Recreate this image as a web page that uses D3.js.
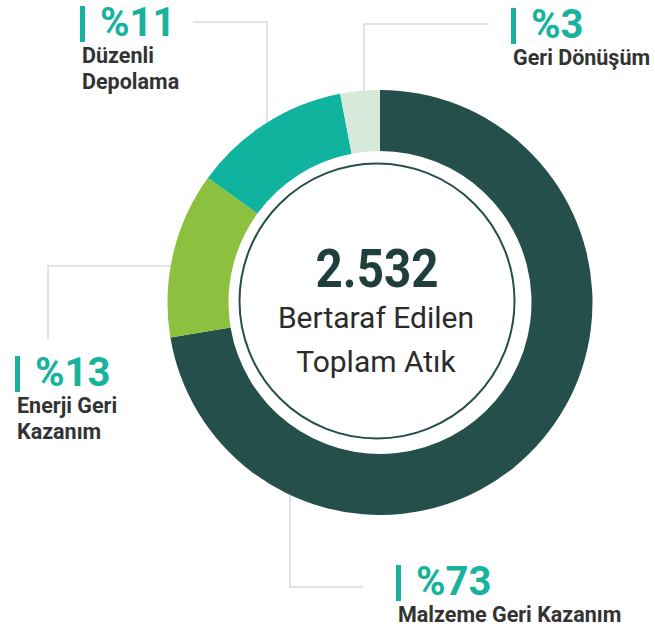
<!DOCTYPE html>
<html>
<head>
<meta charset="utf-8">
<script src="https://cdn.jsdelivr.net/npm/d3@7"></script>
<style>
  body { margin: 0; background: #fff; }
  text { font-family: "Roboto", "DejaVu Sans", sans-serif; }
</style>
</head>
<body>
<div id="chart"></div>
<script>
// waste breakdown (share of arc, labels as printed)
const categories = ["Malzeme Geri Kazanım", "Enerji Geri Kazanım", "Düzenli Depolama", "Geri Dönüşüm"];
const shares = [72.3, 12.6, 12.0, 3.0];
const pctLabels = ["%73", "%13", "%11", "%3"];
const colors = ["#244f4b", "#8bc13f", "#10b39e", "#d5e8da"];
const totalLabel = "2.532";
const centerLines = ["Bertaraf Edilen", "Toplam Atık"];

const width = 655, height = 632;
const cx = 380, cy = 302.5;
const outerR = 212.5, innerR = 151.5;

const svg = d3.select("#chart").append("svg")
  .attr("width", width)
  .attr("height", height);

// where a vertical / horizontal leader meets the donut edge
const edgeY = (x, dir) => cy + dir * Math.sqrt(outerR * outerR - (x - cx) * (x - cx));
const edgeX = (y, dir) => cx + dir * Math.sqrt(outerR * outerR - (y - cy) * (y - cy));

// label layout: bar position, text lines, leader path
const labels = [
  { i: 0, x: 396, top: 565, lines: ["Malzeme Geri Kazanım"],
    leader: [[363, 587], [290, 587], [290, edgeY(290, 1) - 4]] },
  { i: 1, x: 15, top: 356, lines: ["Enerji Geri", "Kazanım"],
    leader: [[48, 339], [48, 266], [edgeX(266, -1) + 4, 266]] },
  { i: 2, x: 80, top: 6, lines: ["Düzenli", "Depolama"],
    leader: [[193, 22], [267, 22], [267, edgeY(267, -1) + 4]] },
  { i: 3, x: 511, top: 8, lines: ["Geri Dönüşüm"],
    leader: [[489, 24], [364, 24], [364, edgeY(364, -1) + 4]] }
];

// leader lines go underneath the ring
svg.append("g")
  .selectAll("path")
  .data(labels)
  .enter().append("path")
  .attr("d", d => d3.line()(d.leader))
  .attr("fill", "none")
  .attr("stroke", "#dcdcdc")
  .attr("stroke-width", 1.6);

const pie = d3.pie().sort(null).value(d => d);
const arc = d3.arc().innerRadius(innerR).outerRadius(outerR);

svg.append("g")
  .attr("transform", `translate(${cx},${cy})`)
  .selectAll("path")
  .data(pie(shares))
  .enter().append("path")
  .attr("d", arc)
  .attr("fill", (d, i) => colors[i]);

// inner ring and centre text
svg.append("circle")
  .attr("cx", cx - 3)
  .attr("cy", cy - 1.5)
  .attr("r", 137.5)
  .attr("fill", "#fff")
  .attr("stroke", "#244f4b")
  .attr("stroke-width", 2);

svg.append("text")
  .attr("transform", `translate(${cx - 3},287) scale(0.88,1)`)
  .attr("text-anchor", "middle")
  .attr("font-size", 54)
  .attr("font-weight", 700)
  .attr("fill", "#1f3f3c")
  .text(totalLabel);

svg.selectAll("text.center")
  .data(centerLines)
  .enter().append("text")
  .attr("class", "center")
  .attr("x", cx - 4)
  .attr("y", (d, i) => 328 + i * 44)
  .attr("text-anchor", "middle")
  .attr("font-size", 30)
  .attr("fill", "#2b2b2b")
  .text(d => d);

// percentage labels
const lg = svg.append("g")
  .selectAll("g")
  .data(labels)
  .enter().append("g");

lg.append("rect")
  .attr("x", d => d.x)
  .attr("y", d => d.top)
  .attr("width", 5)
  .attr("height", 36)
  .attr("fill", "#17b39c");

lg.append("text")
  .attr("x", d => d.x + 20)
  .attr("y", d => d.top + 30)
  .attr("font-size", 40)
  .attr("font-weight", 700)
  .attr("fill", "#17b39c")
  .text(d => pctLabels[d.i]);

lg.each(function(d) {
  d3.select(this).selectAll("text.cat")
    .data(d.lines)
    .enter().append("text")
    .attr("class", "cat")
    .attr("x", d.x + 2)
    .attr("y", (t, j) => d.top + 57 + j * 26)
    .attr("font-size", 21.5)
    .attr("font-weight", 700)
    .attr("fill", "#333")
    .text(t => t);
});
</script>
</body>
</html>
